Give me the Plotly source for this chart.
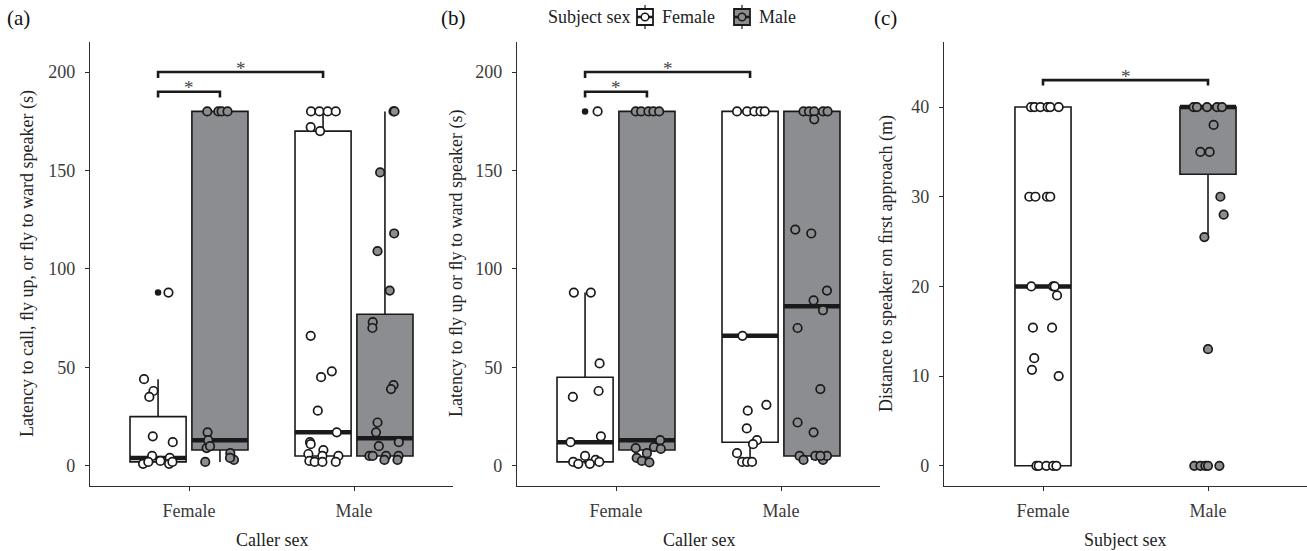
import plotly.graph_objects as go

W, H = 1307, 551

# ---------------- data ----------------
categories = ["Female", "Male"]
cat_pos = [1, 2]
sex_fill = {"Female": "#FFFFFF", "Male": "#8C8D90"}

# Panel (a): latency to call, fly up, or fly toward speaker (s)
a_ff_y = [44, 38, 35, 88, 15, 12, 5, 4, 2.5, 1, 2, 1, 2]
a_ff_jit = [-0.085, -0.028, -0.053, 0.063, -0.032, 0.089, -0.036, 0.071, 0.014, -0.091, -0.059, 0.067, 0.087]
a_ff_stats = [2, 4, 25, 1, 44]          # q1, median, q3, lower, upper
a_ff_out = [88]

a_fm_y = [180, 180, 180, 180, 17, 13, 9, 10, 6.4, 3, 4, 2]
a_fm_jit = [-0.077, -0.01, 0.01, 0.046, -0.075, -0.071, -0.081, -0.06, 0.063, 0.085, 0.061, -0.089]
a_fm_stats = [8, 13, 180, 2, 180]
a_fm_out = []

a_mf_y = [180, 180, 180, 180, 172, 170, 66, 48, 45, 28, 17, 12, 11, 8, 6, 5, 5, 2.5, 2, 2, 2]
a_mf_jit = [-0.073, -0.022, 0.028, 0.077, -0.075, -0.018, -0.075, 0.053, -0.012, -0.032, 0.083,
            -0.079, -0.075, 0.002, -0.089, -0.004, 0.093, -0.083, -0.051, -0.004, 0.077]
a_mf_stats = [5, 17, 170, 2, 180]
a_mf_out = []

a_mm_y = [180, 180, 149, 118, 109, 89, 73, 70, 41, 39, 22, 17, 10, 12, 5, 5, 5, 5, 3, 3]
a_mm_jit = [0.052, 0.058, -0.029, 0.056, -0.045, 0.029, -0.074, -0.076, 0.052, 0.037, -0.045,
            -0.054, -0.037, 0.084, -0.094, -0.074, 0.007, 0.082, -0.003, 0.076]
a_mm_stats = [5, 14, 77, 3, 180]
a_mm_out = []

# Panel (b): latency to fly up or fly toward speaker (s)
b_ff_y = [180, 88, 88, 52, 38, 35, 15, 12, 5, 3, 2, 1, 1, 2]
b_ff_jit = [0.076, -0.068, 0.035, 0.088, 0.082, -0.074, 0.096, -0.088, 0.0, 0.064, -0.072, -0.041, 0.029, 0.086]
b_ff_stats = [2, 12, 45, 1, 88]
b_ff_out = [180]

b_fm_y = [180, 180, 180, 180, 180, 9, 4, 2.5, 6.4, 1.7, 9.5, 13, 8.6]
b_fm_jit = [-0.068, -0.035, 0.009, 0.039, 0.074, -0.068, -0.062, -0.031, 0.0, 0.015, 0.043, 0.08, 0.084]
b_fm_stats = [8, 13, 180, 2, 180]
b_fm_out = []

b_mf_y = [180, 180, 180, 180, 180, 66, 31, 28, 19, 13, 11, 6.4, 2, 2, 2]
b_mf_jit = [-0.079, -0.018, 0.026, 0.063, 0.089, -0.046, 0.099, -0.014, -0.02, 0.042, 0.018, -0.079, -0.048, -0.018, 0.012]
b_mf_stats = [12, 66, 180, 2, 180]
b_mf_out = []

b_mm_y = [180, 180, 180, 180, 180, 176, 120, 118, 89, 84, 79, 70, 39, 22, 17, 5, 3, 5, 3, 5, 5]
b_mm_jit = [-0.051, -0.018, 0.014, 0.067, 0.095, 0.014, -0.101, -0.004, 0.091, 0.01, 0.067, -0.087,
            0.051, -0.087, 0.01, -0.075, -0.051, 0.02, 0.067, 0.091, 0.051]
b_mm_stats = [5, 81, 180, 3, 180]
b_mm_out = []

# Panel (c): distance to speaker on first approach (m)
c_f_y = [40, 40, 40, 40, 40, 40, 30, 30, 30, 30, 20, 20, 20, 19, 15.4, 15.4, 12, 10.7, 10, 0, 0, 0, 0, 0]
c_f_jit = [-0.073, -0.051, -0.016, 0.028, 0.044, 0.095, -0.083, -0.046, 0.024, 0.044, -0.071, 0.061,
           0.071, 0.085, -0.061, 0.055, -0.053, -0.067, 0.095, -0.04, -0.026, 0.02, 0.061, 0.081]
c_f_stats = [0, 20, 40, 0, 40]
c_f_out = []

c_m_y = [40, 40, 40, 40, 40, 38, 35, 35, 30, 28, 25.5, 13, 0, 0, 0, 0, 0]
c_m_jit = [-0.087, -0.067, -0.006, 0.055, 0.085, 0.034, -0.046, 0.01, 0.075, 0.095, -0.022, 0.0,
           -0.083, -0.046, -0.016, 0.0, 0.069]
c_m_stats = [32.5, 40, 40, 25.5, 40]
c_m_out = [13, 0]

# significance brackets: (x_start, x_end, y)
a_brackets = [(0.8125, 1.1875, 190), (0.8125, 1.8125, 200)]
b_brackets = [(0.8125, 1.1875, 190), (0.8125, 1.8125, 200)]
c_brackets = [(1.0, 2.0, 43)]
ab_ticks = [0, 50, 100, 150, 200]
c_ticks = [0, 10, 20, 30, 40]

# ---------------- style ----------------
DODGE = 0.1875
BOXW = 0.34
INK = "#1a1a1a"
AX = "#2e2e2e"
FONT = "Liberation Serif"
FS = 18


def px(x):
    return x / W


def py(y):
    return 1 - y / H


fig = go.Figure()


def add_group(xa, ya, cat, side, ys, jit, stats, outl, sex):
    pos = cat + side * DODGE
    q1, med, q3, lo, hi = stats
    fig.add_trace(go.Box(
        x=[pos], q1=[q1], median=[med], q3=[q3], lowerfence=[lo], upperfence=[hi],
        width=BOXW, whiskerwidth=0, fillcolor=sex_fill[sex],
        line=dict(color=INK, width=1.6), boxpoints=False,
        xaxis=xa, yaxis=ya, showlegend=False, hoverinfo="skip"))
    fig.add_trace(go.Scatter(
        x=[pos - BOXW / 2, pos + BOXW / 2], y=[med, med], mode="lines",
        line=dict(color=INK, width=4.5), xaxis=xa, yaxis=ya,
        showlegend=False, hoverinfo="skip"))
    if outl:
        fig.add_trace(go.Scatter(
            x=[pos] * len(outl), y=outl, mode="markers",
            marker=dict(color=INK, size=6.5), xaxis=xa, yaxis=ya,
            showlegend=False, hoverinfo="skip"))
    fig.add_trace(go.Scatter(
        x=[pos + j for j in jit], y=ys, mode="markers",
        marker=dict(symbol="circle", size=8.5, color=sex_fill[sex],
                    line=dict(color=INK, width=1.7)),
        xaxis=xa, yaxis=ya, showlegend=False, hoverinfo="skip"))


# panel a
add_group("x", "y", cat_pos[0], -1, a_ff_y, a_ff_jit, a_ff_stats, a_ff_out, "Female")
add_group("x", "y", cat_pos[0], 1, a_fm_y, a_fm_jit, a_fm_stats, a_fm_out, "Male")
add_group("x", "y", cat_pos[1], -1, a_mf_y, a_mf_jit, a_mf_stats, a_mf_out, "Female")
add_group("x", "y", cat_pos[1], 1, a_mm_y, a_mm_jit, a_mm_stats, a_mm_out, "Male")
# panel b
add_group("x2", "y2", cat_pos[0], -1, b_ff_y, b_ff_jit, b_ff_stats, b_ff_out, "Female")
add_group("x2", "y2", cat_pos[0], 1, b_fm_y, b_fm_jit, b_fm_stats, b_fm_out, "Male")
add_group("x2", "y2", cat_pos[1], -1, b_mf_y, b_mf_jit, b_mf_stats, b_mf_out, "Female")
add_group("x2", "y2", cat_pos[1], 1, b_mm_y, b_mm_jit, b_mm_stats, b_mm_out, "Male")
# panel c
add_group("x3", "y3", cat_pos[0], 0, c_f_y, c_f_jit, c_f_stats, c_f_out, "Female")
add_group("x3", "y3", cat_pos[1], 0, c_m_y, c_m_jit, c_m_stats, c_m_out, "Male")

annotations = []


def add_brackets(xa, ya, brackets, tick):
    for x0, x1, yb in brackets:
        fig.add_trace(go.Scatter(
            x=[x0, x0, x1, x1], y=[yb - tick, yb, yb, yb - tick], mode="lines",
            line=dict(color=INK, width=2.6), xaxis=xa, yaxis=ya,
            showlegend=False, hoverinfo="skip"))
        annotations.append(dict(
            x=(x0 + x1) / 2, y=yb, xref=xa, yref=ya, text="*", showarrow=False,
            xanchor="center", yanchor="middle", yshift=4,
            font=dict(family=FONT, size=19, color="#444")))


add_brackets("x", "y", a_brackets, 3)
add_brackets("x2", "y2", b_brackets, 3)
add_brackets("x3", "y3", c_brackets, 0.6)

xdom = [[90 / W, 453 / W], [517 / W, 880 / W], [944 / W, 1.0]]
ydom = [py(486), py(42)]

axis_common = dict(showgrid=False, zeroline=False, showline=True, linecolor=AX, linewidth=1.2,
                   ticks="outside", ticklen=4, tickwidth=1, tickcolor=AX,
                   tickfont=dict(family=FONT, size=FS, color="#3a3a3a"))

layout = dict(
    width=W, height=H, margin=dict(l=0, r=0, t=0, b=0),
    paper_bgcolor="white", plot_bgcolor="white",
    font=dict(family=FONT, size=FS, color="#333"),
    showlegend=False, boxmode="overlay",
)
for i, (xa, ya) in enumerate([("xaxis", "yaxis"), ("xaxis2", "yaxis2"), ("xaxis3", "yaxis3")]):
    suffix = "" if i == 0 else str(i + 1)
    layout[xa] = dict(axis_common, domain=xdom[i], range=[0.4, 2.6], anchor="y" + suffix,
                      tickvals=cat_pos, ticktext=categories, ticklabelstandoff=4)
    if i < 2:
        layout[ya] = dict(axis_common, domain=ydom, range=[-10.25, 215.25], anchor="x" + suffix,
                          tickvals=ab_ticks, ticklabelstandoff=6)
    else:
        layout[ya] = dict(axis_common, domain=ydom, range=[-2.25, 47.25], anchor="x" + suffix,
                          tickvals=c_ticks, ticklabelstandoff=6)

# panel labels and axis titles
for lab, x in [("(a)", 18), ("(b)", 453), ("(c)", 885)]:
    annotations.append(dict(x=px(x), y=py(18), xref="paper", yref="paper", text=lab,
                            xanchor="center", yanchor="middle", showarrow=False,
                            font=dict(family=FONT, size=21, color="#111")))
ytitles = [("Latency to call, ﬂy up, or ﬂy to ward speaker (s)", 27),
           ("Latency to ﬂy up or ﬂy to ward speaker (s)", 456),
           ("Distance to speaker on ﬁrst approach (m)", 886)]
for t, x in ytitles:
    annotations.append(dict(x=px(x), y=py(264), xref="paper", yref="paper", text=t,
                            textangle=-90, xanchor="center", yanchor="middle", showarrow=False,
                            font=dict(family=FONT, size=FS, color="#222")))
for t, x in [("Caller sex", 271.5), ("Caller sex", 698.5), ("Subject sex", 1125.5)]:
    annotations.append(dict(x=px(x), y=py(540), xref="paper", yref="paper", text=t,
                            xanchor="center", yanchor="middle", showarrow=False,
                            font=dict(family=FONT, size=FS, color="#222")))

# legend (drawn manually as in the ggplot key)
annotations.append(dict(x=px(546), y=py(17), xref="paper", yref="paper", text="Subject sex",
                        xanchor="left", yanchor="middle", showarrow=False,
                        font=dict(family=FONT, size=FS, color="#222")))
shapes = []
legend_keys = [("Female", 637, 660), ("Male", 734, 757)]
for sex, kx, tx in legend_keys:
    cx = kx + 8
    shapes.append(dict(type="line", xref="paper", yref="paper", x0=px(cx), x1=px(cx),
                       y0=py(5), y1=py(29), line=dict(color=INK, width=1.2)))
    shapes.append(dict(type="rect", xref="paper", yref="paper", x0=px(kx), x1=px(kx + 16),
                       y0=py(25), y1=py(9), fillcolor=sex_fill[sex], line=dict(color=INK, width=1.8)))
    shapes.append(dict(type="line", xref="paper", yref="paper", x0=px(kx), x1=px(kx + 16),
                       y0=py(17), y1=py(17), line=dict(color=INK, width=2.5)))
    shapes.append(dict(type="circle", xref="paper", yref="paper", x0=px(cx - 3.8), x1=px(cx + 3.8),
                       y0=py(20.8), y1=py(13.2), fillcolor=sex_fill[sex], line=dict(color=INK, width=1.5)))
    annotations.append(dict(x=px(tx), y=py(17), xref="paper", yref="paper", text=sex,
                            xanchor="left", yanchor="middle", showarrow=False,
                            font=dict(family=FONT, size=FS, color="#222")))

layout["annotations"] = annotations
layout["shapes"] = shapes
fig.update_layout(**layout)
fig.write_html("out.html", config={"displayModeBar": False},
               post_script="document.body.style.margin='0';")
